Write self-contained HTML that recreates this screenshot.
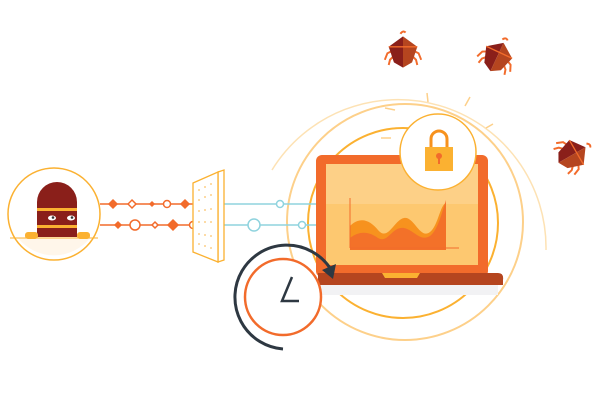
<!DOCTYPE html>
<html><head><meta charset="utf-8"><style>html,body{margin:0;padding:0;background:#fff}svg{display:block}</style></head>
<body>
<svg width="600" height="400" viewBox="0 0 600 400" xmlns="http://www.w3.org/2000/svg">
<defs>
<g id="bug">
<g stroke="#f26b2b" stroke-width="1.5" fill="none">
<path d="M-6,-2 L-12,1 L-14,6"/><path d="M-6,2 L-10,6 L-11,10"/><path d="M6,-2 L12,1 L14,6"/><path d="M6,2 L10,6 L11,10"/>
<path d="M-2,-14 Q0,-17 2,-15"/>
</g>
<polygon points="0,-12 -11,-4 -7,8 0,12" fill="#8a1f1a"/>
<polygon points="0,-12 11,-4 7,8 0,12" fill="#b5451f"/>
<line x1="-11" y1="-4" x2="11" y2="-4" stroke="#f26b2b" stroke-width="1"/>
</g>
</defs>
<!-- concentric arcs -->
<path d="M272,170 A148,148 0 0 1 546,250" fill="none" stroke="#fde2b4" stroke-width="1.5"/>
<circle cx="405" cy="222" r="118" fill="none" stroke="#fdd08a" stroke-width="2"/>
<circle cx="403" cy="223" r="95" fill="none" stroke="#fbb131" stroke-width="2"/>
<g stroke="#fdd08a" stroke-width="1.5">
<line x1="427" y1="93" x2="428" y2="102"/><line x1="470" y1="97" x2="465" y2="106"/>
<line x1="493" y1="124" x2="486" y2="128"/><line x1="395" y1="110" x2="385" y2="108"/>
<line x1="381" y1="138" x2="391" y2="138"/>
</g>
<!-- thief -->
<circle cx="54" cy="214" r="46" fill="#fff" stroke="#fbb131" stroke-width="1.5"/>
<path d="M18,238 L90,238 A46,46 0 0 1 18,238Z" fill="#fff6ea"/>
<line x1="10" y1="238" x2="98" y2="238" stroke="#fbb131" stroke-width="1"/>
<path d="M37,237 L37,202 A20,20 0 0 1 77,202 L77,237Z" fill="#8a1f1a"/>
<rect x="37" y="208" width="40" height="3" fill="#fbb131"/>
<rect x="37" y="225" width="40" height="3" fill="#fbb131"/>
<ellipse cx="52" cy="218" rx="4" ry="2.5" fill="#fff"/><ellipse cx="71" cy="218" rx="4" ry="2.5" fill="#fff"/>
<circle cx="53" cy="217.5" r="1.3" fill="#333"/><circle cx="72" cy="217.5" r="1.3" fill="#333"/>
<rect x="25" y="232" width="13" height="7" rx="3" fill="#fbb131"/><rect x="77" y="232" width="13" height="7" rx="3" fill="#fbb131"/>
<!-- lines -->
<g stroke="#f26b2b" stroke-width="1.5" fill="#fff">
<line x1="100" y1="204" x2="205" y2="204"/><line x1="100" y1="225" x2="205" y2="225"/>
<path d="M113,200 L117,204 113,208 109,204Z" fill="#f26b2b"/>
<path d="M132,200 L136,204 132,208 128,204Z"/>
<path d="M152,202 L154,204 152,206 150,204Z" fill="#f26b2b"/>
<circle cx="167" cy="204" r="3.5"/>
<path d="M185,200 L189,204 185,208 181,204Z" fill="#f26b2b"/>
<path d="M118,222 L121,225 118,228 115,225Z" fill="#f26b2b"/>
<circle cx="135" cy="225" r="5"/>
<path d="M155,222 L158,225 155,228 152,225Z"/>
<path d="M173,220 L178,225 173,230 168,225Z" fill="#f26b2b"/>
<circle cx="193" cy="225" r="3.5"/>
</g>
<g stroke="#8fd3de" stroke-width="1.5" fill="#fff">
<line x1="224" y1="204" x2="318" y2="204"/><line x1="224" y1="225" x2="318" y2="225"/>
<circle cx="280" cy="204" r="3.5"/><circle cx="254" cy="225" r="6"/><circle cx="302" cy="225" r="3.5"/>
</g>
<!-- firewall -->
<polygon points="218,172 224,170 224,260 218,262" fill="#fff" stroke="#fbb131" stroke-width="1.3"/>
<polygon points="193,183 218,172 218,262 193,252" fill="#fff" stroke="#fbb131" stroke-width="1.3"/>
<g fill="#fdd08a">
<circle cx="199" cy="190" r="1"/><circle cx="205" cy="187" r="1"/><circle cx="211" cy="184" r="1"/>
<circle cx="199" cy="200" r="1"/><circle cx="205" cy="197" r="1"/><circle cx="211" cy="195" r="1"/>
<circle cx="199" cy="211" r="1"/><circle cx="205" cy="210" r="1"/><circle cx="211" cy="209" r="1"/>
<circle cx="199" cy="222" r="1"/><circle cx="205" cy="222" r="1"/><circle cx="211" cy="222" r="1"/>
<circle cx="199" cy="234" r="1"/><circle cx="205" cy="235" r="1"/><circle cx="211" cy="236" r="1"/>
<circle cx="199" cy="244" r="1"/><circle cx="205" cy="246" r="1"/><circle cx="211" cy="248" r="1"/>
</g>
<!-- laptop -->
<rect x="318" y="285" width="180" height="10" fill="#f2f2f4"/>
<rect x="316" y="155" width="172" height="122" rx="6" fill="#f26b2b"/>
<rect x="326" y="164" width="152" height="101" fill="#fdc870"/>
<rect x="326" y="164" width="152" height="40" fill="#fdd596" opacity="0.6"/>
<path d="M350,250 L350,226 C360,216 370,220 378,230 C388,242 394,220 404,218 C414,216 420,240 430,232 C438,226 440,205 446,203 L446,250Z" fill="#f7921e"/>
<path d="M350,250 L350,238 C360,230 370,232 378,238 C388,244 392,226 404,228 C414,230 420,242 430,236 C438,230 442,212 446,200 L446,250Z" fill="#f26b2b" opacity="0.85"/>
<line x1="350" y1="198" x2="350" y2="248" stroke="#f26b2b" stroke-width="1"/>
<line x1="350" y1="248" x2="459" y2="248" stroke="#f26b2b" stroke-width="1"/>
<path d="M318,273 L498,273 Q504,273 503,280 L503,285 L318,285Z" fill="#b5451f"/>
<path d="M382,273 L420,273 L417,278 L385,278Z" fill="#fbb131"/>
<!-- lock -->
<circle cx="438" cy="152" r="38" fill="#fff" stroke="#fbb131" stroke-width="1.5"/>
<path d="M431,147 L431,139 A8,8 0 0 1 447,139 L447,147" fill="none" stroke="#f7921e" stroke-width="3"/>
<rect x="425" y="147" width="28" height="24" fill="#fbb131"/>
<circle cx="439" cy="156" r="3" fill="#f26b2b"/><rect x="438" y="157" width="2" height="7" fill="#f26b2b"/>
<!-- clock -->
<circle cx="283" cy="297" r="38" fill="#fff" stroke="#f26b2b" stroke-width="2.5"/>
<path d="M283,349 A52,52 0 1 1 330,268" fill="none" stroke="#2e3842" stroke-width="3"/>
<path d="M322,270 L336,264 L333,279Z" fill="#2e3842"/>
<path d="M292,277 L282,301 L299,301" fill="none" stroke="#2e3842" stroke-width="2.5"/>
<!-- bugs -->
<use href="#bug" transform="translate(403,52) scale(1.3)"/>
<use href="#bug" transform="translate(497,57) rotate(25) scale(1.3)"/>
<use href="#bug" transform="translate(572,155) rotate(60) scale(1.3)"/>
</svg>
</body></html>
